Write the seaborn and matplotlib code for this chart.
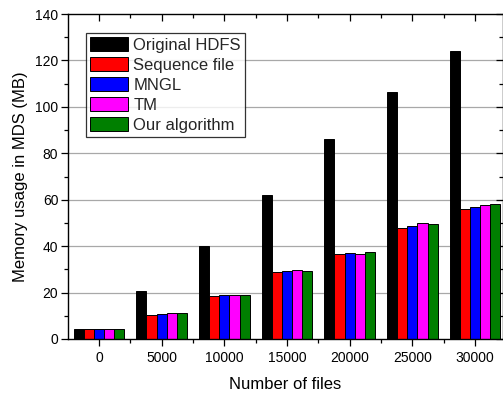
import numpy as np
import pandas as pd
import matplotlib
matplotlib.use("Agg")
import matplotlib.pyplot as plt
import seaborn as sns
from matplotlib.ticker import MultipleLocator, FixedLocator

sns.set_theme(style="white")
plt.rcParams['font.family'] = ['Liberation Sans', 'DejaVu Sans']

# dati
n_files = ["0", "5000", "10000", "15000", "20000", "25000", "30000"]
original_hdfs = [4.3, 20.5, 40.0, 62.0, 86.0, 106.5, 124.0]
sequence_file = [4.3, 10.5, 18.5, 28.7, 36.5, 48.0, 56.2]
mngl = [4.3, 10.8, 19.0, 29.3, 37.0, 48.7, 57.0]
tm = [4.3, 11.2, 19.0, 29.6, 36.5, 49.8, 57.8]
our_algorithm = [4.3, 11.3, 18.8, 29.5, 37.5, 49.5, 58.2]

series_names = ["Original HDFS", "Sequence file", "MNGL", "TM", "Our algorithm"]
colors = ["#000000", "#ff0000", "#0000ff", "#ff00ff", "#007f00"]

rows = []
for name, vals in zip(series_names,
                      [original_hdfs, sequence_file, mngl, tm, our_algorithm]):
    for x, v in zip(n_files, vals):
        rows.append({"files": x, "mem": v, "method": name})
df = pd.DataFrame(rows)

fig = plt.figure(figsize=(5.03, 3.93), dpi=100)
ax = fig.add_axes([68 / 503, 1 - 339 / 393, 434.5 / 503, 325 / 393])

sns.barplot(data=df, x="files", y="mem", hue="method", order=n_files,
            hue_order=series_names, palette=colors, saturation=1,
            width=0.81, gap=0, edgecolor="black", linewidth=0.7, ax=ax)

ax.set_xlim(-0.495, 6.44)
ax.set_ylim(0, 140)

# griglia orizzontale
for y in range(20, 140, 20):
    ax.axhline(y, color="#a8a8a8", lw=0.9, zorder=0)
ax.set_axisbelow(True)

ax.yaxis.set_major_locator(MultipleLocator(20))
ax.yaxis.set_minor_locator(MultipleLocator(10))
ax.xaxis.set_minor_locator(FixedLocator(np.arange(-0.5, 7, 1.0)))

ax.tick_params(axis="both", which="both", color="black", labelsize=10,
               labelcolor="black")
ax.tick_params(axis="y", which="major", direction="out", length=5, width=0.9,
               left=True, right=True, pad=2)
ax.tick_params(axis="y", which="minor", direction="out", length=3, width=0.9,
               left=True, right=True)
ax.tick_params(axis="x", which="major", direction="out", length=5, width=0.9,
               bottom=True, top=True, pad=4)
ax.tick_params(axis="x", which="minor", direction="out", length=3, width=0.9,
               bottom=True, top=True)
# tick interni su lati destro e superiore
for t in ax.yaxis.get_major_ticks() + ax.yaxis.get_minor_ticks():
    t.tick2line.set_marker(matplotlib.lines.TICKLEFT)
for t in ax.xaxis.get_major_ticks() + ax.xaxis.get_minor_ticks():
    t.tick2line.set_marker(matplotlib.lines.TICKDOWN)

for s in ax.spines.values():
    s.set_color("black")
    s.set_linewidth(1.0)

ax.set_xlabel("Number of files", fontsize=12, color="black", labelpad=8)
ax.set_ylabel("Memory usage in MDS (MB)", fontsize=12, color="black", labelpad=5)

leg = ax.legend(loc="upper left", bbox_to_anchor=(0.041, 0.942), borderaxespad=0,
                fontsize=12, frameon=True, fancybox=False, edgecolor="black",
                handlelength=2.3, handleheight=0.95, labelspacing=0.24,
                handletextpad=0.3, borderpad=0.25)
leg.get_frame().set_linewidth(0.9)
leg.set_title(None)

fig.savefig("out.png", dpi=100)
